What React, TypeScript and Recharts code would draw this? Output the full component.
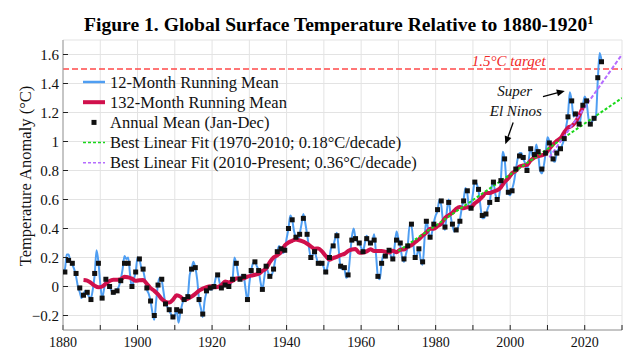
import React from 'react';
import {
  ComposedChart,
  Line,
  Scatter,
  XAxis,
  YAxis,
  CartesianGrid,
  ReferenceLine,
  ReferenceDot,
} from 'recharts';

const SERIF = "'Liberation Serif', 'Times New Roman', Times, serif";

// Annual mean (Jan-Dec), one value per year starting 1880, drawn at mid-year
const annualMean = [
  0.10, 0.18, 0.16, 0.09, -0.01, -0.06, -0.04, -0.09, 0.09, 0.16,
  -0.08, 0.05, 0.00, -0.04, -0.03, 0.04, 0.16, 0.16, 0.00, 0.10,
  0.19, 0.12, -0.01, -0.10, -0.20, 0.01, 0.05, -0.12, -0.16, -0.21,
  -0.16, -0.17, -0.09, -0.07, 0.12, 0.13, -0.09, -0.19, -0.03, -0.01,
  0.00, 0.08, -0.01, 0.01, 0.00, 0.05, 0.16, 0.05, 0.07, -0.09,
  0.11, 0.17, 0.11, -0.02, 0.14, 0.07, 0.12, 0.24, 0.26, 0.25,
  0.40, 0.46, 0.34, 0.36, 0.47, 0.36, 0.20, 0.24, 0.16, 0.16,
  0.10, 0.20, 0.28, 0.35, 0.14, 0.13, 0.08, 0.32, 0.33, 0.30,
  0.24, 0.33, 0.30, 0.32, 0.07, 0.16, 0.21, 0.25, 0.19, 0.32,
  0.30, 0.19, 0.28, 0.43, 0.20, 0.26, 0.17, 0.45, 0.34, 0.43,
  0.53, 0.59, 0.41, 0.58, 0.43, 0.39, 0.45, 0.59, 0.66, 0.54,
  0.72, 0.67, 0.49, 0.50, 0.58, 0.72, 0.60, 0.73, 0.88, 0.65,
  0.66, 0.81, 0.90, 0.89, 0.80, 0.95, 0.91, 0.93, 0.81, 0.92,
  0.99, 0.88, 0.92, 0.95, 1.02, 1.17, 1.28, 1.19, 1.12, 1.25,
  1.28, 1.12, 1.16, 1.44, 1.55,
];

// 12-month running mean, sampled every half year from 1880.0
const running12 = [
  0.11, 0.12, 0.22, 0.22, 0.17, 0.15, 0.12, 0.07, 0.00, -0.04, -0.08, -0.05, -0.03, -0.05, -0.07, -0.08, -0.02, 0.08, 0.25, 0.17,
  0.02, -0.08, -0.02, 0.05, 0.03, 0.00, -0.03, -0.05, -0.04, -0.02, 0.00, 0.05, 0.12, 0.21, 0.19, 0.20, 0.08, -0.01, 0.05, 0.10,
  0.20, 0.19, 0.13, 0.11, 0.05, -0.02, -0.05, -0.10, -0.18, -0.23, -0.10, 0.02, 0.06, 0.04, -0.04, -0.12, -0.14, -0.17, -0.19, -0.22,
  -0.20, -0.16, -0.25, -0.18, -0.12, -0.09, -0.08, -0.06, 0.08, 0.12, 0.17, 0.13, 0.05, -0.09, -0.15, -0.21, -0.10, -0.04, -0.01, -0.02,
  -0.02, 0.00, 0.06, 0.08, 0.03, -0.01, 0.00, 0.01, 0.02, 0.00, 0.02, 0.05, 0.20, 0.16, 0.08, 0.05, 0.08, 0.07, -0.02, -0.10,
  0.02, 0.11, 0.16, 0.17, 0.14, 0.11, 0.03, -0.02, 0.06, 0.14, 0.10, 0.07, 0.08, 0.12, 0.19, 0.24, 0.28, 0.26, 0.23, 0.25,
  0.33, 0.40, 0.49, 0.46, 0.38, 0.34, 0.32, 0.36, 0.43, 0.50, 0.44, 0.36, 0.27, 0.20, 0.22, 0.24, 0.20, 0.16, 0.17, 0.16,
  0.13, 0.09, 0.14, 0.20, 0.27, 0.28, 0.33, 0.37, 0.25, 0.13, 0.12, 0.12, 0.06, 0.08, 0.20, 0.34, 0.40, 0.33, 0.31, 0.30,
  0.27, 0.24, 0.30, 0.35, 0.31, 0.29, 0.31, 0.36, 0.22, 0.07, 0.05, 0.16, 0.22, 0.20, 0.23, 0.25, 0.21, 0.18, 0.28, 0.38,
  0.33, 0.28, 0.20, 0.17, 0.22, 0.28, 0.42, 0.42, 0.30, 0.19, 0.22, 0.26, 0.18, 0.15, 0.32, 0.46, 0.39, 0.33, 0.37, 0.44,
  0.49, 0.52, 0.60, 0.56, 0.44, 0.39, 0.52, 0.60, 0.49, 0.42, 0.38, 0.39, 0.41, 0.46, 0.54, 0.60, 0.68, 0.64, 0.53, 0.56,
  0.64, 0.73, 0.71, 0.66, 0.56, 0.47, 0.47, 0.50, 0.54, 0.58, 0.68, 0.72, 0.64, 0.60, 0.62, 0.74, 0.93, 0.88, 0.72, 0.64,
  0.63, 0.67, 0.72, 0.80, 0.88, 0.92, 0.92, 0.88, 0.85, 0.80, 0.88, 0.96, 0.90, 0.90, 0.98, 0.92, 0.80, 0.78, 0.83, 0.92,
  1.03, 1.00, 0.90, 0.87, 0.86, 0.92, 0.95, 0.95, 0.98, 1.02, 1.10, 1.18, 1.34, 1.28, 1.17, 1.20, 1.16, 1.11, 1.18, 1.25,
  1.31, 1.27, 1.16, 1.11, 1.14, 1.15, 1.17, 1.42, 1.61, 1.56,
];

// 132-month running mean, one value per year centred on 1885.5 ... 2019.5
const running132 = [
  0.045, 0.041, 0.025, 0.006, -0.005, 0.000, 0.020, 0.038, 0.046, 0.047,
  0.050, 0.068, 0.063, 0.054, 0.039, 0.043, 0.044, 0.018, -0.011, -0.030,
  -0.054, -0.086, -0.105, -0.111, -0.091, -0.061, -0.070, -0.092, -0.084, -0.070,
  -0.051, -0.029, -0.015, -0.005, 0.001, -0.005, -0.003, 0.010, 0.034, 0.028,
  0.039, 0.055, 0.057, 0.056, 0.068, 0.075, 0.081, 0.088, 0.107, 0.124,
  0.168, 0.200, 0.215, 0.238, 0.283, 0.303, 0.315, 0.325, 0.318, 0.309,
  0.295, 0.277, 0.261, 0.262, 0.242, 0.211, 0.185, 0.196, 0.205, 0.217,
  0.225, 0.245, 0.255, 0.258, 0.233, 0.235, 0.242, 0.257, 0.245, 0.245,
  0.245, 0.240, 0.235, 0.247, 0.236, 0.254, 0.255, 0.276, 0.285, 0.306,
  0.325, 0.352, 0.372, 0.399, 0.399, 0.416, 0.434, 0.472, 0.491, 0.509,
  0.535, 0.548, 0.539, 0.547, 0.547, 0.574, 0.593, 0.618, 0.645, 0.644,
  0.655, 0.663, 0.684, 0.720, 0.747, 0.781, 0.798, 0.828, 0.835, 0.839,
  0.870, 0.890, 0.900, 0.905, 0.916, 0.950, 0.980, 1.005, 1.023, 1.063,
  1.095, 1.107, 1.133, 1.180, 1.235,
];

const fitYears1970 = [1970, 2030];
const fitValues1970 = [0.245, 1.30];
const fitYears2010 = [2010.5, 2030];
const fitValues2010 = [0.89, 1.60];

const xTicks = [1880, 1890, 1900, 1910, 1920, 1930, 1940, 1950, 1960, 1970, 1980, 1990, 2000, 2010, 2020, 2030];
const yTicks = [-0.2, 0, 0.2, 0.4, 0.6, 0.8, 1, 1.2, 1.4, 1.6];
const TARGET = 1.5;

const blueData = running12.map((v, i) => ({ x: 1880 + i * 0.5, v }));
const annualData = annualMean.map((v, i) => ({ x: 1880.5 + i, v }));
const crimsonData = running132.map((v, i) => ({ x: 1885.5 + i, v }));
const greenData = fitYears1970.map((x, i) => ({ x, v: fitValues1970[i] }));
const purpleData = fitYears2010.map((x, i) => ({ x, v: fitValues2010[i] }));

const BLUE = '#4f9ef2';
const CRIMSON = '#d0104c';
const GREEN = '#19d819';
const PURPLE = '#b56cff';
const RED = '#ff4a4a';

const fmtY = (v: number) => {
  const s = String(Number(v.toFixed(1)));
  return s.replace('-', '\u2212');
};
const fmtX = (v: number) => (v % 20 === 0 && v <= 2020 ? String(v) : '');
const blank = () => '';

const SquareShape = (props: any) => {
  const { cx, cy } = props;
  if (cx == null || cy == null) return null;
  return <rect x={cx - 2.5} y={cy - 2.5} width={5} height={5} fill="#111" />;
};

const ArrowShape = (props: any) => {
  const { x1, y1, x2, y2 } = props;
  const dx = x2 - x1;
  const dy = y2 - y1;
  const len = Math.hypot(dx, dy) || 1;
  const ux = dx / len;
  const uy = dy / len;
  const hl = 8;
  const hw = 3.5;
  const bx = x2 - ux * hl;
  const by = y2 - uy * hl;
  const pts = `${x2},${y2} ${bx - uy * hw},${by + ux * hw} ${bx + uy * hw},${by - ux * hw}`;
  return (
    <g>
      <line x1={x1} y1={y1} x2={bx} y2={by} stroke="#000" strokeWidth={1.3} />
      <polygon points={pts} fill="#000" />
    </g>
  );
};

const legendItems = [
  { label: '12-Month Running Mean', kind: 'line', color: BLUE, width: 2.5, dash: undefined },
  { label: '132-Month Running Mean', kind: 'line', color: CRIMSON, width: 4, dash: undefined },
  { label: 'Annual Mean (Jan-Dec)', kind: 'square', color: '#111', width: 0, dash: undefined },
  { label: 'Best Linear Fit (1970-2010; 0.18\u00B0C/decade)', kind: 'line', color: GREEN, width: 1.5, dash: '3 2' },
  { label: 'Best Linear Fit (2010-Present; 0.36\u00B0C/decade)', kind: 'line', color: PURPLE, width: 1.5, dash: '3 2' },
];

export default function App() {
  const tickStyle = { fontFamily: SERIF, fontSize: 15, fill: '#111' };
  return (
    <div style={{ position: 'absolute', left: 0, top: 0, width: 637, height: 360, background: '#fff' }}>
      <ComposedChart
        width={637}
        height={360}
        margin={{ top: 40, right: 15, bottom: 0, left: 0 }}
      >
        <CartesianGrid stroke="#e3e3e3" strokeWidth={1} />
        <XAxis
          type="number"
          dataKey="x"
          domain={[1880, 2030]}
          ticks={xTicks}
          interval={0}
          allowDataOverflow
          height={30}
          tickSize={-5}
          tickMargin={12}
          tickFormatter={fmtX}
          tick={{ ...tickStyle, fontSize: 14 }}
          axisLine={{ stroke: '#9a9a9a' }}
          tickLine={{ stroke: '#222' }}
        />
        <XAxis
          xAxisId="top"
          orientation="top"
          type="number"
          dataKey="x"
          domain={[1880, 2030]}
          ticks={xTicks}
          interval={0}
          allowDataOverflow
          height={0}
          tickSize={-5}
          tickFormatter={blank}
          axisLine={{ stroke: '#9a9a9a' }}
          tickLine={{ stroke: '#222' }}
        />
        <YAxis
          type="number"
          domain={[-0.3, 1.7]}
          ticks={yTicks}
          interval={0}
          allowDataOverflow
          width={63}
          tickSize={-5}
          tickMargin={9}
          tickFormatter={fmtY}
          tick={tickStyle}
          axisLine={{ stroke: '#9a9a9a' }}
          tickLine={{ stroke: '#222' }}
        />
        <YAxis
          yAxisId="right"
          orientation="right"
          type="number"
          domain={[-0.3, 1.7]}
          ticks={yTicks}
          interval={0}
          allowDataOverflow
          width={0}
          tickSize={-5}
          tickFormatter={blank}
          axisLine={{ stroke: '#9a9a9a' }}
          tickLine={{ stroke: '#222' }}
        />
        <ReferenceLine y={TARGET} stroke={RED} strokeWidth={1.5} strokeDasharray="6 3" />
        <Line
          data={blueData}
          dataKey="v"
          type="monotone"
          stroke={BLUE}
          strokeWidth={2}
          dot={false}
          activeDot={false}
          isAnimationActive={false}
        />
        <Line
          data={crimsonData}
          dataKey="v"
          type="monotone"
          stroke={CRIMSON}
          strokeWidth={4}
          dot={false}
          activeDot={false}
          isAnimationActive={false}
        />
        <Line
          data={greenData}
          dataKey="v"
          type="linear"
          stroke={GREEN}
          strokeWidth={2}
          strokeDasharray="3 2"
          dot={false}
          activeDot={false}
          isAnimationActive={false}
        />
        <Line
          data={purpleData}
          dataKey="v"
          type="linear"
          stroke={PURPLE}
          strokeWidth={2}
          strokeDasharray="4 2"
          dot={false}
          activeDot={false}
          isAnimationActive={false}
        />
        <Scatter data={annualData} dataKey="v" shape={SquareShape} isAnimationActive={false} />
        <ReferenceLine
          segment={[{ x: 2000.8, y: 1.131 }, { x: 1998.7, y: 0.981 }]}
          shape={ArrowShape}
        />
        <ReferenceLine
          segment={[{ x: 2008.8, y: 1.31 }, { x: 2014.65, y: 1.349 }]}
          shape={ArrowShape}
        />
        <ReferenceDot
          x={1999.6}
          y={1.556}
          r={0}
          fill="none"
          stroke="none"
          label={{ value: '1.5\u00B0C target', position: 'center', fontFamily: SERIF, fontSize: 15, fontStyle: 'italic', fill: '#f02828' }}
        />
        <ReferenceDot
          x={2001.2}
          y={1.349}
          r={0}
          fill="none"
          stroke="none"
          label={{ value: 'Super', position: 'center', fontFamily: SERIF, fontSize: 15, fontStyle: 'italic', fill: '#111' }}
        />
        <ReferenceDot
          x={2001.5}
          y={1.211}
          r={0}
          fill="none"
          stroke="none"
          label={{ value: 'El Ninos', position: 'center', fontFamily: SERIF, fontSize: 15, fontStyle: 'italic', fill: '#111' }}
        />
      </ComposedChart>
      <svg
        width={637}
        height={360}
        style={{ position: 'absolute', left: 0, top: 0, pointerEvents: 'none' }}
      >
        <text x={84} y={31} fontFamily={SERIF} fontSize={19.6} fontWeight="bold" fill="#000">
          Figure 1. Global Surface Temperature Relative to 1880-1920
          <tspan fontSize={12.5} dy={-7.5}>1</tspan>
        </text>
        <text
          transform="translate(31,176) rotate(-90)"
          textAnchor="middle"
          fontFamily={SERIF}
          fontSize={16.5}
          fill="#111"
        >
          Temperature Anomaly (°C)
        </text>
        {legendItems.map((it, i) => {
          const y = 82 + i * 20.2;
          return (
            <g key={it.label}>
              {it.kind === 'line' ? (
                <line x1={83} x2={105} y1={y} y2={y} stroke={it.color} strokeWidth={it.width} strokeDasharray={it.dash} />
              ) : (
                <rect x={91.5} y={y - 2.5} width={5} height={5} fill={it.color} />
              )}
              <text x={110} y={y + 5.5} fontFamily={SERIF} fontSize={16.5} fill="#111">
                {it.label}
              </text>
            </g>
          );
        })}
      </svg>
    </div>
  );
}
